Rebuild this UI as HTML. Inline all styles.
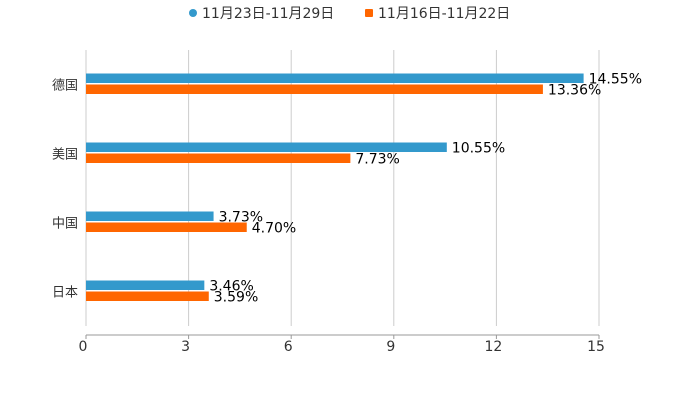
<!DOCTYPE html>
<html><head><meta charset="utf-8"><style>
body{margin:0;background:#fff;font-family:"DejaVu Sans","Noto Sans CJK SC",sans-serif}
</style></head><body>
<svg id="c" width="700" height="400" xmlns="http://www.w3.org/2000/svg" style="font-family:'DejaVu Sans','Noto Sans CJK SC',sans-serif">
<g>
<g><circle cx="193" cy="13" r="4" fill="#3399cc"/><text x="202" y="18" font-size="14" fill="#333">11月23日-11月29日</text></g>
<g><rect x="365" y="9" width="8" height="8" rx="1" fill="#ff6600"/><text x="378" y="18" font-size="14" fill="#333">11月16日-11月22日</text></g>
</g>
</svg>
<script>
const categories=["德国","美国","中国","日本"];
const seriesA=[14.55,10.55,3.73,3.46];
const seriesB=[13.36,7.73,4.70,3.59];
const ticks=[0,3,6,9,12,15];
const svg=document.getElementById('c');
const NS='http://www.w3.org/2000/svg';
const x0=86,x1=599,xmax=15,yTop=50,yBot=326;
const xs=v=>x0+(x1-x0)*v/xmax;
const band=(yBot-yTop)/categories.length;
function mk(t,a,p){const e=document.createElementNS(NS,t);for(const k in a)e.setAttribute(k,a[k]);(p||svg).appendChild(e);return e;}
ticks.forEach(t=>{
 const g=mk('line',{x1:xs(t),x2:xs(t),y1:yTop,y2:yBot,stroke:'#ccc','stroke-width':1});
 
 
 const tk=mk('line',{x1:xs(t),x2:xs(t),y1:335,y2:339,stroke:'#999'});
 
 
 const l=mk('text',{x:xs(t)-3,y:351,'font-size':14,fill:'#333','text-anchor':'middle'});
 l.textContent=t;
 
 
});
const ax=mk('line',{x1:x0,x2:x1,y1:335,y2:335,stroke:'#999'});


categories.forEach((c,i)=>{
 const cy=yTop+band*(i+0.5);
 const l=mk('text',{x:78,y:cy+5,'font-size':13,fill:'#333','text-anchor':'end'});
 l.textContent=c;
 
 
 [[seriesA,'#3399cc',cy-11,'bar-week-1123'],[seriesB,'#ff6600',cy,'bar-week-1116']].forEach(([s,col,y,n])=>{
  const r=mk('rect',{x:x0,y:y,width:xs(s[i])-x0,height:9.5,fill:col});
  
  
  const v=mk('text',{x:xs(s[i])+5,y:y+10,'font-size':14,fill:'#000'});
  v.textContent=s[i].toFixed(2)+'%';
  
  
 });
});
</script>
</body></html>
